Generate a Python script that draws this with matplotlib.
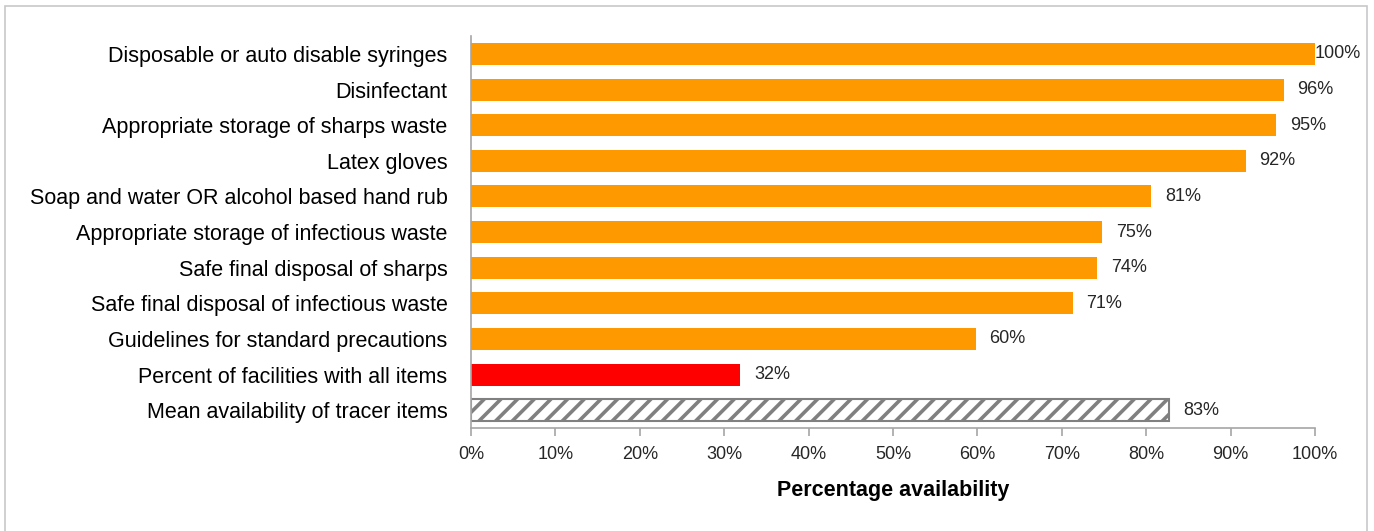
import matplotlib
matplotlib.use('Agg')
import matplotlib.pyplot as plt
from matplotlib.patches import Rectangle

# data (top to bottom)
items = [
    'Disposable or auto disable syringes',
    'Disinfectant',
    'Appropriate storage of sharps waste',
    'Latex gloves',
    'Soap and water OR alcohol based hand rub',
    'Appropriate storage of infectious waste',
    'Safe final disposal of sharps',
    'Safe final disposal of infectious waste',
    'Guidelines for standard precautions',
    'Percent of facilities with all items',
    'Mean availability of tracer items',
]
availability = [100, 96.3, 95.4, 91.8, 80.6, 74.8, 74.2, 71.3, 59.8, 31.9, 82.7]
value_labels = ['100%', '96%', '95%', '92%', '81%', '75%', '74%', '71%', '60%', '32%', '83%']
x_ticks = [0, 10, 20, 30, 40, 50, 60, 70, 80, 90, 100]

plt.rcParams['font.family'] = ['Liberation Sans', 'DejaVu Sans']
plt.rcParams['hatch.linewidth'] = 2.6

fig = plt.figure(figsize=(13.74, 5.31), dpi=100)
ax = fig.add_axes([0.3428, 0.194, 0.957 - 0.3428, 0.932 - 0.194])

# outer chart border
fig.patches.append(Rectangle((5 / 1374, -0.05), 1362 / 1374, 1 - 6 / 531 + 0.05,
                             transform=fig.transFigure, fill=False,
                             edgecolor='#c8c8c8', linewidth=1.2))

ypos = list(range(len(items)))
colors = ['#ff9900'] * 9 + ['#ff0000', 'white']
bars = ax.barh(ypos, availability, height=0.62, color=colors, zorder=2)
# hatched mean bar
bars[-1].set_hatch('//')
bars[-1].set_edgecolor('#808080')
bars[-1].set_linewidth(1.5)

for y, v, lab in zip(ypos, availability, value_labels):
    off = 0 if v >= 99.5 else 10
    ax.annotate(lab, (v, y), xytext=(off, 0), textcoords='offset points',
                va='center', ha='left', fontsize=13, color='#262626',
                annotation_clip=False)

ax.set_ylim(len(items) - 0.5, -0.5)
ax.set_xlim(0, 100)
ax.set_yticks(ypos)
ax.set_yticklabels(items, fontsize=15.5, color='black')
ax.set_xticks(x_ticks)
ax.set_xticklabels([f'{t}%' for t in x_ticks], fontsize=13, color='#262626')
ax.set_xlabel('Percentage availability', fontsize=15.5, fontweight='bold',
              labelpad=12)

ax.tick_params(axis='y', length=0, pad=17)
ax.tick_params(axis='x', length=6, width=1.2, color='#a6a6a6', pad=7)

ax.spines['top'].set_visible(False)
ax.spines['right'].set_visible(False)
ax.spines['left'].set_color('#a6a6a6')
ax.spines['bottom'].set_color('#a6a6a6')
ax.spines['left'].set_linewidth(1.2)
ax.spines['bottom'].set_linewidth(1.2)

fig.savefig('out.png', dpi=100)
